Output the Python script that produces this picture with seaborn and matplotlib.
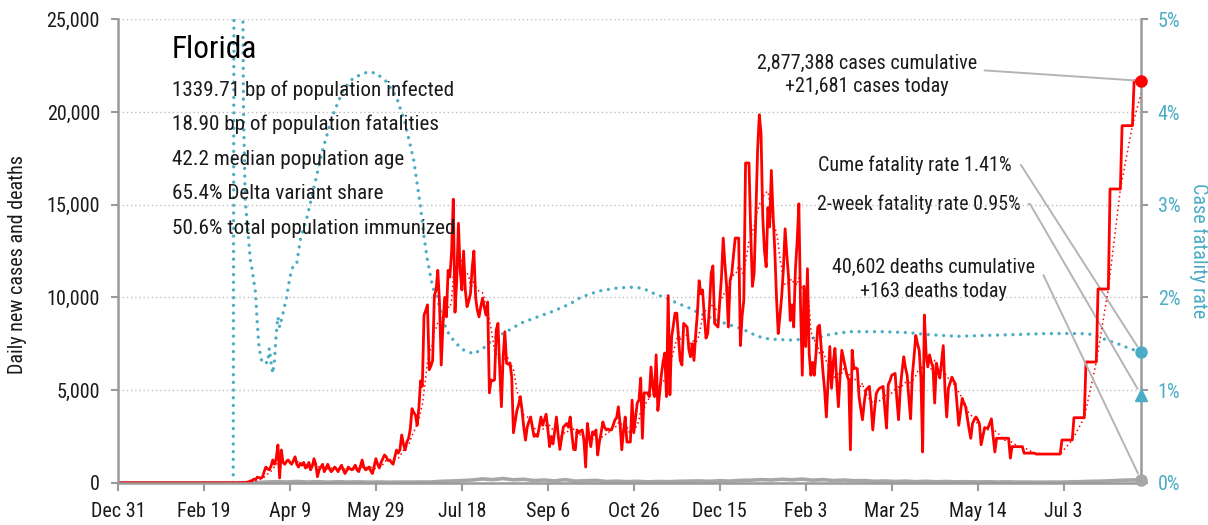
import matplotlib
matplotlib.use("Agg")
import matplotlib.pyplot as plt
import seaborn as sns
import pandas as pd
from matplotlib import font_manager

start_date = "2019-12-31"

# daily new cases, one value per day from Dec 31 2019
daily_cases = [
    0, 0, 0, 0, 0, 0, 0, 0, 0, 0,
    0, 0, 0, 0, 0, 0, 0, 0, 0, 0,
    0, 0, 0, 0, 0, 0, 0, 0, 0, 0,
    0, 0, 0, 0, 0, 0, 0, 0, 0, 0,
    0, 0, 0, 0, 0, 0, 0, 0, 0, 0,
    0, 0, 0, 0, 0, 0, 0, 0, 0, 0,
    0, 2, 0, 0, 1, 2, 2, 3, 4, 2,
    6, 5, 13, 20, 26, 24, 50, 100, 120, 200,
    180, 300, 280, 250, 300, 600, 850, 750, 700, 900,
    1230, 1000, 1300, 2040, 260, 1770, 1100, 1000, 1150, 1230,
    1100, 1000, 1200, 1400, 1000, 850, 1050, 950, 1100, 800,
    850, 1100, 700, 900, 1300, 1000, 330, 700, 850, 1000,
    600, 800, 1000, 750, 600, 700, 850, 750, 600, 800,
    950, 700, 500, 650, 850, 750, 700, 800, 950, 700,
    600, 900, 1230, 850, 700, 750, 850, 650, 500, 900,
    1300, 1000, 800, 1100, 1300, 1500, 1400, 1200, 1230, 1100,
    1000, 1400, 1770, 1600, 1800, 2580, 2100, 1770, 2200, 2400,
    2900, 4000, 3800, 3650, 3100, 4050, 5500, 5200, 9050, 9300,
    9600, 6100, 6300, 6600, 10100, 10400, 11460, 9700, 6350, 8500,
    10000, 8950, 11460, 11100, 12400, 15300, 9200, 10900, 14000, 11500,
    10400, 12500, 10400, 9500, 9800, 10200, 11600, 12500, 10000, 9300,
    8950, 9500, 9950, 9500, 9050, 9750, 4850, 5550, 5500, 5550,
    8250, 8600, 6200, 4100, 6800, 8150, 6450, 6400, 6450, 5700,
    2700, 3300, 3900, 4200, 4650, 3900, 3000, 2300, 3000, 3300,
    3550, 3000, 2500, 2600, 2500, 3000, 3550, 3100, 3400, 3700,
    2900, 1950, 2500, 2100, 2800, 3550, 2600, 1800, 2400, 3000,
    3100, 3200, 3000, 3550, 2600, 1800, 1780, 2850, 2700, 2800,
    2850, 2300, 850, 3200, 2500, 1950, 2750, 2600, 2850, 1500,
    2200, 2700, 3280, 3000, 2850, 2900, 2850, 2850, 3100, 3390,
    3500, 4100, 3200, 1780, 2800, 3550, 2200, 2200, 2200, 4460,
    2700, 3500, 4300, 4460, 5650, 2400, 4850, 4850, 4850, 4650,
    6250, 5200, 4650, 6900, 3900, 4800, 5800, 6500, 7000, 4650,
    10100, 4750, 7850, 8500, 9150, 9150, 7800, 6600, 6350, 8600,
    8500, 8400, 7200, 6800, 7500, 6600, 8000, 9150, 10900, 10200,
    10400, 9000, 7800, 8050, 9500, 11300, 11700, 8600, 8500, 8400,
    9800, 11100, 13200, 11800, 10600, 8400, 10900, 11300, 12300, 13200,
    13200, 13200, 7400, 9000, 9850, 17250, 17250, 17250, 13500, 10600,
    11300, 14500, 17950, 19850, 18850, 14350, 12500, 11650, 14850, 13800,
    16850, 14500, 12550, 10000, 8050, 9000, 10050, 11500, 13700, 12300,
    11100, 8750, 9600, 8400, 11500, 13000, 15050, 9500, 5800, 10600,
    7350, 11550, 7000, 5800, 6500, 5800, 7000, 8400, 8500, 7300,
    6000, 5000, 3550, 5500, 7350, 5100, 6500, 7250, 5500, 4100,
    5800, 7150, 6700, 6250, 5800, 5550, 1780, 7150, 6150, 6200,
    6150, 4650, 4000, 3400, 4300, 5000, 5100, 5200, 4200, 2850,
    3900, 4800, 5000, 5100, 5150, 5200, 4000, 2950, 5300, 5500,
    5800, 5850, 5900, 4500, 3400, 5100, 6000, 6800, 6200, 5800,
    4500, 3450, 5800, 6800, 7950, 7500, 7150, 5650, 1660, 9050,
    7000, 6250, 6900, 6500, 6250, 4300, 6450, 6000, 5650, 6500,
    7400, 5000, 3550, 5100, 5400, 5700, 5500, 5350, 4200, 3100,
    3800, 4550, 4300, 4100, 3500, 2900, 2400, 3200, 3400, 3550,
    3400, 3200, 2050, 2500, 2950, 2950, 2950, 3200, 3450, 2500,
    1660, 2400, 2400, 2400, 2400, 2400, 2400, 2400, 2400, 1330,
    1950, 1950, 1950, 1950, 1950, 1950, 1950, 1600, 1600, 1600,
    1600, 1600, 1600, 1600, 1550, 1550, 1550, 1550, 1550, 1550,
    1550, 1550, 1550, 1550, 1550, 1550, 1550, 1550, 1550, 2309,
    2309, 2309, 2309, 2309, 2309, 2309, 3511, 3511, 3511, 3511,
    3511, 3511, 3511, 6516, 6516, 6516, 6516, 6516, 6516, 6516,
    10454, 10454, 10454, 10454, 10454, 10454, 10454, 15848, 15848, 15848,
    15848, 15848, 15848, 15848, 19262, 19262, 19262, 19262, 19262, 19262,
    19262, 21681, 21681, 21681, 21681, 21681,
]

# daily deaths, read at day offsets from Dec 31 2019
death_days = [0, 60, 66, 72, 80, 86, 92, 98, 104, 110, 116, 122, 128, 134, 140,
              146, 152, 158, 164, 170, 176, 182, 188, 194, 200, 206, 212, 218,
              224, 230, 236, 242, 248, 254, 260, 266, 272, 278, 284, 290, 296,
              302, 308, 314, 320, 326, 332, 338, 344, 350, 356, 362, 368, 374,
              380, 386, 392, 398, 404, 410, 416, 422, 428, 434, 440, 446, 452,
              458, 464, 470, 476, 482, 488, 494, 500, 506, 512, 518, 524, 530,
              536, 542, 548, 554, 560, 566, 572, 578, 584, 590, 595]
daily_deaths = [0, 0, 2, 5, 20, 40, 60, 45, 70, 40, 60, 35, 55, 40, 50,
                35, 45, 30, 40, 35, 45, 40, 80, 95, 120, 150, 210, 170,
                230, 160, 190, 120, 150, 100, 170, 90, 110, 130, 70, 90, 60,
                80, 50, 70, 60, 80, 90, 100, 80, 110, 90, 130, 140, 170,
                150, 190, 160, 200, 140, 170, 120, 150, 110, 120, 80, 100, 70,
                90, 60, 80, 55, 70, 50, 60, 45, 55, 40, 50, 35, 40,
                30, 40, 35, 50, 60, 80, 90, 110, 140, 150, 163]

# case fatality rate (%), right axis
cfr_days = [0, 60, 67, 68, 70, 72, 73, 74, 77, 78, 80, 81, 82, 83, 84, 86, 87,
            88, 89, 90, 91, 92, 93, 94, 96, 98, 100, 102, 104, 106, 110, 114,
            119, 125, 131, 137, 145, 150, 156, 162, 167, 172, 176, 178, 180,
            183, 185, 188, 191, 195, 200, 207, 213, 219, 226, 234, 244, 253,
            263, 269, 280, 290, 298, 305, 312, 319, 325, 333, 338, 345, 353,
            363, 372, 379, 391, 400, 408, 414, 425, 445, 460, 470, 488, 505,
            524, 540, 560, 567, 575, 583, 588, 595]
cfr_pct = [0, 0, 0, 12.0, 10.0, 7.0, 4.0, 3.05, 2.4, 2.3, 2.05, 1.72, 1.47,
           1.36, 1.29, 1.3, 1.29, 1.45, 1.3, 1.18, 1.32, 1.6, 1.79, 1.68, 1.83,
           2.0, 2.22, 2.35, 2.37, 2.62, 2.87, 3.19, 3.59, 3.97, 4.24, 4.37,
           4.43, 4.42, 4.33, 4.16, 3.88, 3.48, 2.97, 2.65, 2.40, 2.11, 2.03,
           1.83, 1.65, 1.54, 1.44, 1.39, 1.46, 1.56, 1.63, 1.72, 1.79, 1.85,
           1.93, 2.0, 2.07, 2.1, 2.11, 2.1, 2.04, 1.99, 1.94, 1.88, 1.83, 1.78,
           1.72, 1.66, 1.58, 1.55, 1.54, 1.55, 1.57, 1.60, 1.63, 1.63, 1.62,
           1.60, 1.58, 1.59, 1.60, 1.61, 1.61, 1.60, 1.54, 1.49, 1.45, 1.41]

tick_labels = ["Dec 31", "Feb 19", "Apr 9", "May 29", "Jul 18", "Sep 6",
               "Oct 26", "Dec 15", "Feb 3", "Mar 25", "May 14", "Jul 3"]
state = "Florida"
stats_lines = ["1339.71 bp of population infected",
               "18.90 bp of population fatalities",
               "42.2 median population age",
               "65.4% Delta variant share",
               "50.6% total population immunized"]
cases_cume = 2877388
cases_today = 21681
deaths_cume = 40602
deaths_today = 163
cume_cfr = 1.41
two_week_cfr = 0.95

red = "#ff0000"
blue = "#4bacc6"
grey = "#a6a6a6"
note_grey = "#b4b4b4"
text_col = "#1a1a1a"

sns.set_style("white")
names = {f.name for f in font_manager.fontManager.ttflist}
font = next((n for n in ["Liberation Sans Narrow", "Roboto Condensed"] if n in names), "Liberation Sans")
plt.rcParams["font.family"] = [font, "DejaVu Sans"]

dates = pd.date_range(start_date, periods=len(daily_cases), freq="D")
df = pd.DataFrame({"date": dates, "cases": daily_cases})
df["avg"] = df["cases"].rolling(7, min_periods=1).mean()
deaths = pd.DataFrame({"date": pd.Timestamp(start_date) + pd.to_timedelta(death_days, unit="D"),
                       "deaths": daily_deaths})
cfr = pd.DataFrame({"date": pd.Timestamp(start_date) + pd.to_timedelta(cfr_days, unit="D"),
                    "cfr": cfr_pct})
last_date = dates[-1]

fig = plt.figure(figsize=(12.08, 5.25), dpi=100)
ax = fig.add_axes([118 / 1208, 1 - 482.8 / 525, 1023 / 1208, 463.5 / 525])
ax2 = ax.twinx()
ax.set_zorder(ax2.get_zorder() + 1)
ax.patch.set_visible(False)

sns.lineplot(data=cfr, x="date", y="cfr", ax=ax2, color=blue, lw=2.4,
             linestyle=(0, (0.01, 2.3)), dash_capstyle="round")
sns.lineplot(data=deaths, x="date", y="deaths", ax=ax, color=grey, lw=2.6)
sns.lineplot(data=df, x="date", y="cases", ax=ax, color=red, lw=2.0)
sns.lineplot(data=df, x="date", y="avg", ax=ax, color=red, lw=1.1,
             linestyle=(0, (1, 2)))

ax.plot([last_date], [cases_today], "o", color=red, ms=8, clip_on=False, zorder=10)
ax.plot([last_date], [deaths_today], "o", color=grey, ms=8, clip_on=False, zorder=10)
ax2.plot([last_date], [cume_cfr], "o", color=blue, ms=8, clip_on=False, zorder=10)
ax2.plot([last_date], [two_week_cfr], "^", color=blue, ms=9, clip_on=False, zorder=10)

ax.set_xlim(dates[0], last_date)
ax.set_ylim(0, 25000)
ax2.set_ylim(0, 5)
ax.set_xticks(pd.date_range(start_date, periods=len(tick_labels), freq="50D"))
ax.set_xticklabels(tick_labels)
ax.set_yticks(range(0, 25001, 5000))
ax.set_yticklabels([f"{v:,}" for v in range(0, 25001, 5000)])
ax2.set_yticks(range(0, 6))
ax2.set_yticklabels([f"{v}%" for v in range(0, 6)])
ax.set_xlabel("")
ax.set_ylabel("")
ax2.set_ylabel("")

ax.yaxis.grid(True, linestyle=(0, (1, 2)), color="#bdbdbd", lw=1)
ax.xaxis.grid(False)
for side in ["top", "right"]:
    ax.spines[side].set_visible(False)
for side in ["top", "left", "bottom"]:
    ax2.spines[side].set_visible(False)
for sp in [ax.spines["left"], ax.spines["bottom"], ax2.spines["right"]]:
    sp.set_color("#9a9a9a")
    sp.set_linewidth(1.8)

ax.tick_params(axis="y", length=5, width=1.5, color="#9a9a9a", pad=8,
               labelsize=14.5, labelcolor=text_col, left=True)
ax.tick_params(axis="x", length=6, width=1.5, color="#9a9a9a", pad=8,
               labelsize=14.5, labelcolor=text_col, bottom=True)
ax2.tick_params(axis="y", length=5, width=1.5, color="#9a9a9a", pad=7,
                labelsize=14.5, labelcolor=blue, right=True)

fig.text(18 / 1208, 1 - 265 / 525, "Daily new cases and deaths", rotation=90,
         ha="center", va="center", fontsize=14.5, color=text_col)
fig.text(1199 / 1208, 1 - 251 / 525, "Case fatality rate", rotation=270,
         ha="center", va="center", fontsize=14.5, color=blue)

ax.text(0.0528, 0.934, state, transform=ax.transAxes, fontsize=22.5,
        ha="left", va="center", color="black", zorder=20)
for i, line in enumerate(stats_lines):
    ax.text(0.0528, 0.8475 - i * 0.0745, line, transform=ax.transAxes,
            fontsize=15.2, ha="left", va="center", color=text_col, zorder=20)

line_kw = dict(arrowstyle="-", color=note_grey, lw=1.4, shrinkB=5)
ax.annotate(f"{cases_cume:,} cases cumulative\n+{cases_today:,} cases today",
            xy=(last_date, cases_today), xytext=(867, 525 - 75),
            textcoords="figure pixels", ha="center", va="center",
            fontsize=14.5, linespacing=1.3, color=text_col, annotation_clip=False,
            arrowprops=dict(relpos=(1.0, 0.62), shrinkA=3, **line_kw))
ax.annotate(f"{deaths_cume:,} deaths cumulative\n+{deaths_today} deaths today",
            xy=(last_date, deaths_today), xytext=(933, 525 - 279.5),
            textcoords="figure pixels", ha="center", va="center",
            fontsize=14.5, linespacing=1.3, color=text_col, annotation_clip=False,
            arrowprops=dict(relpos=(1.0, 0.6), shrinkA=4,
                            connectionstyle="arc,angleA=0,armA=9,angleB=0,armB=0,rad=0",
                            **line_kw))
ax2.annotate(f"Cume fatality rate {cume_cfr:.2f}%",
             xy=(last_date, cume_cfr), xytext=(1012, 525 - 165),
             textcoords="figure pixels", ha="right", va="center",
             fontsize=14.5, color=text_col, annotation_clip=False,
             arrowprops=dict(relpos=(1.0, 0.5), shrinkA=4,
                             connectionstyle="arc,angleA=0,armA=9,angleB=0,armB=0,rad=0",
                             **line_kw))
ax2.annotate(f"2-week fatality rate {two_week_cfr:.2f}%",
             xy=(last_date, two_week_cfr), xytext=(1021, 525 - 204),
             textcoords="figure pixels", ha="right", va="center",
             fontsize=14.5, color=text_col, annotation_clip=False,
             arrowprops=dict(relpos=(1.0, 0.5), shrinkA=3,
                             connectionstyle="arc,angleA=0,armA=9,angleB=0,armB=0,rad=0",
                             **line_kw))

fig.savefig("out.png", dpi=100)
